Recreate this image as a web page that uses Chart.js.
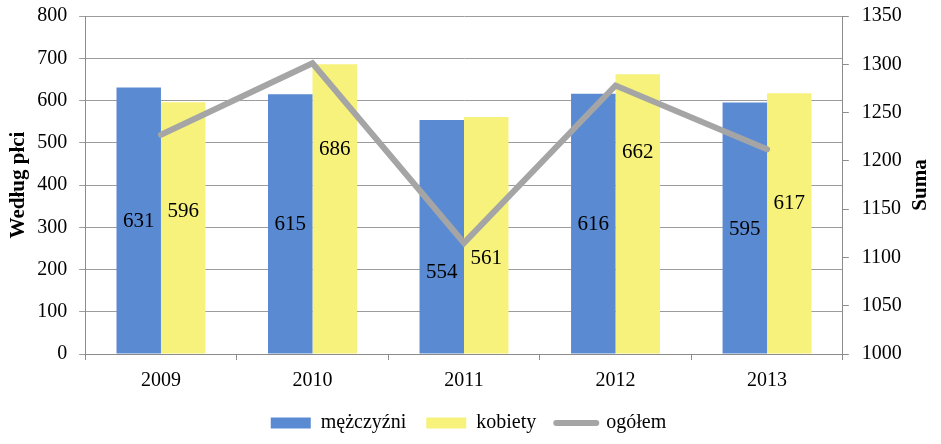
<!DOCTYPE html>
<html><head><meta charset="utf-8">
<script src="https://cdn.jsdelivr.net/npm/chart.js@4/dist/chart.umd.min.js"></script>
<style>html,body{margin:0;padding:0;background:#fff;}#wrap{width:941px;height:444px;position:relative;}</style>
</head><body><div id="wrap"><canvas id="c"></canvas></div>
<script>
// ---- data ----
const years = ['2009', '2010', '2011', '2012', '2013'];
const men = [631, 615, 554, 616, 595];
const women = [596, 686, 561, 662, 617];
const total = [1227, 1301, 1115, 1278, 1212];
const seriesNames = ['mężczyźni', 'kobiety', 'ogółem'];
const leftAxis = { title: 'Według płci', min: 0, max: 800, step: 100 };
const rightAxis = { title: 'Suma', min: 1000, max: 1350, step: 50 };

// ---- style ----
const FONT = '"Liberation Serif", "Times New Roman", serif';
const labelShift = [[1, 1, 36, 1, 1], [-16, -59, 23, -61, -20]]; // manual label nudges (px)

const rightTitlePad = { top: 4, bottom: 6 };

const labelsPlugin = {
  id: 'barLabels',
  afterDatasetsDraw(chart) {
    const ctx = chart.ctx;
    ctx.save();
    ctx.font = '21px ' + FONT;
    ctx.fillStyle = '#000';
    ctx.textAlign = 'center';
    ctx.textBaseline = 'middle';
    [0, 1].forEach(i => {
      const meta = chart.getDatasetMeta(i);
      meta.data.forEach((bar, j) => {
        const v = chart.data.datasets[i].data[j];
        ctx.fillText(String(v), bar.x, (bar.y + bar.base) / 2 + labelShift[i][j]);
      });
    });
    ctx.restore();
  }
};

const rightTitlePlugin = {
  id: 'rightTitle',
  afterInit(chart) {
    const lg = chart.legend;
    if (lg && !lg._patched) {
      const orig = lg.fit;
      lg.fit = function () { orig.call(this); this.height -= 8; };
      lg._patched = true;
    }
  },
  afterDraw(chart) {
    const s = chart.scales.y1;
    const ctx = chart.ctx;
    ctx.save();
    ctx.font = 'bold 21px ' + FONT;
    ctx.fillStyle = '#000';
    ctx.textAlign = 'center';
    ctx.textBaseline = 'middle';
    const lh = 21 * 1.2;
    ctx.translate(s.right - rightTitlePad.top - lh / 2, (s.top + s.bottom) / 2);
    ctx.rotate(-Math.PI / 2);
    ctx.fillText(rightAxis.title, 0, 0);
    ctx.restore();
  }
};

const GRID = '#9c9c9c';
const AXIS = '#8c8c8c';

function trimVertical(dw) {
  return function (scale) { scale.width -= dw; scale.paddingTop = 0; scale.paddingBottom = 0; };
}

new Chart(document.getElementById('c'), {
  data: {
    labels: years,
    datasets: [
      { type: 'bar', label: seriesNames[0], data: men, backgroundColor: '#5A8BD2', borderWidth: 0, yAxisID: 'y', order: 2 },
      { type: 'bar', label: seriesNames[1], data: women, backgroundColor: '#F6F27C', borderWidth: 0, yAxisID: 'y', order: 2 },
      { type: 'line', label: seriesNames[2], data: total, borderColor: '#A5A5A5', backgroundColor: '#A5A5A5', borderWidth: 6, pointRadius: 0, tension: 0, yAxisID: 'y1', order: 1, borderCapStyle: 'round', borderJoinStyle: 'miter' }
    ]
  },
  options: {
    responsive: true,
    maintainAspectRatio: false,
    animation: false,
    devicePixelRatio: 1,
    layout: { padding: { left: 0, right: 4, top: 16, bottom: 9 } },
    datasets: { bar: { categoryPercentage: 0.587, barPercentage: 1.0 } },
    plugins: {
      tooltip: { enabled: false },
      legend: {
        position: 'bottom',
        labels: {
          font: { family: FONT, size: 20 },
          color: '#000',
          boxWidth: 40,
          boxHeight: 11,
          usePointStyle: true,
          pointStyleWidth: 40,
          padding: 20,
          generateLabels(chart) {
            return chart.data.datasets.map((ds, i) => ({
              text: ds.label,
              fillStyle: ds.type === 'line' ? ds.borderColor : ds.backgroundColor,
              strokeStyle: ds.type === 'line' ? ds.borderColor : ds.backgroundColor,
              lineWidth: ds.type === 'line' ? 6 : 0,
              lineCap: 'round',
              pointStyle: ds.type === 'line' ? 'line' : 'rect',
              fontColor: '#000',
              hidden: false,
              datasetIndex: i
            }));
          }
        }
      }
    },
    scales: {
      x: {
        afterFit(scale) { scale.height -= 9; },
        grid: { drawOnChartArea: false, drawTicks: true, tickLength: 6, color: AXIS, offset: true },
        border: { color: AXIS },
        ticks: { font: { family: FONT, size: 20 }, color: '#000', padding: 9 }
      },
      y: {
        position: 'left',
        min: leftAxis.min, max: leftAxis.max,
        afterFit: trimVertical(12),
        ticks: { stepSize: leftAxis.step, font: { family: FONT, size: 20 }, color: '#000', padding: 12 },
        grid: { color: GRID, tickLength: 6 },
        border: { color: AXIS },
        title: { display: true, text: leftAxis.title, font: { family: FONT, size: 21, weight: 'bold' }, color: '#000', padding: { top: 6, bottom: 6 } }
      },
      y1: {
        position: 'right',
        min: rightAxis.min, max: rightAxis.max,
        afterFit: trimVertical(13),
        ticks: { stepSize: rightAxis.step, font: { family: FONT, size: 20 }, color: '#000', padding: 13, callback: v => String(v) },
        grid: { drawOnChartArea: false, color: AXIS, tickLength: 6 },
        border: { color: AXIS },
        title: { display: true, text: rightAxis.title, font: { family: FONT, size: 21, weight: 'bold' }, color: 'rgba(0,0,0,0)', padding: rightTitlePad }
      }
    }
  },
  plugins: [labelsPlugin, rightTitlePlugin]
});
</script>
</body></html>
